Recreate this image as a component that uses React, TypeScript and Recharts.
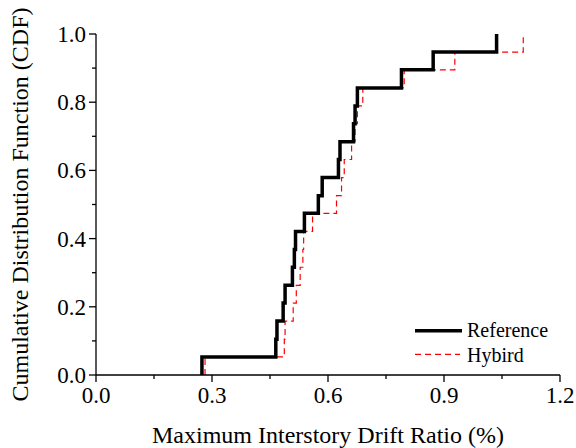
import { Legend, Line, LineChart, XAxis, YAxis } from "recharts";

// cumulative probability after each sorted sample (19 records)
const cdfLevels = [
  0.053, 0.105, 0.158, 0.211, 0.263, 0.316, 0.368, 0.421, 0.474, 0.526,
  0.579, 0.632, 0.684, 0.737, 0.789, 0.842, 0.895, 0.947, 1.0,
];

// sorted maximum interstory drift ratios (%)
const referenceDrift = [
  0.274, 0.465, 0.468, 0.484, 0.489, 0.508, 0.513, 0.516, 0.539, 0.575,
  0.585, 0.627, 0.631, 0.666, 0.67, 0.676, 0.79, 0.872, 1.036,
];
const hybirdDrift = [
  0.282, 0.487, 0.489, 0.51, 0.518, 0.528, 0.535, 0.537, 0.56, 0.622,
  0.635, 0.642, 0.661, 0.67, 0.676, 0.69, 0.797, 0.928, 1.105,
];

const xTicks = [0, 0.15, 0.3, 0.45, 0.6, 0.75, 0.9, 1.05, 1.2];
const xMajor = [0, 0.3, 0.6, 0.9, 1.2];
const yTicks = [0, 0.1, 0.2, 0.3, 0.4, 0.5, 0.6, 0.7, 0.8, 0.9, 1.0];
const yMajor = [0, 0.2, 0.4, 0.6, 0.8, 1.0];

const FONT = "'Liberation Serif', 'Times New Roman', serif";
const TICK_FONT = 23;
const TITLE_FONT = 24;

function toSteps(xs: number[]) {
  const pts = [{ x: xs[0], y: 0 }];
  xs.forEach((x, i) => pts.push({ x, y: cdfLevels[i] }));
  return pts;
}

const isMajor = (v: number, list: number[]) => list.some((m) => Math.abs(m - v) < 1e-6);

function BottomTick({ x, y, payload }: any) {
  const major = isMajor(payload.value, xMajor);
  return (
    <g>
      <line x1={x} x2={x} y1={y} y2={y + (major ? 7 : 4)} stroke="#000" strokeWidth={1.3} />
      {major && (
        <text x={x} y={y + 28} textAnchor="middle" fontSize={TICK_FONT} fontFamily={FONT} fill="#000">
          {payload.value.toFixed(1)}
        </text>
      )}
    </g>
  );
}

function LeftTick({ x, y, payload }: any) {
  const major = isMajor(payload.value, yMajor);
  return (
    <g>
      <line x1={x - (major ? 7 : 4)} x2={x} y1={y} y2={y} stroke="#000" strokeWidth={1.3} />
      {major && (
        <text x={x - 10} y={y + 8} textAnchor="end" fontSize={TICK_FONT} fontFamily={FONT} fill="#000">
          {payload.value.toFixed(1)}
        </text>
      )}
    </g>
  );
}

function TopTick({ x, y, payload }: any) {
  const major = isMajor(payload.value, xMajor);
  return <line x1={x} x2={x} y1={y} y2={y + (major ? 3 : 2)} stroke="#000" strokeWidth={1.3} />;
}

function RightTick({ x, y, payload }: any) {
  const major = isMajor(payload.value, yMajor);
  return <line x1={x - (major ? 3 : 2)} x2={x} y1={y} y2={y} stroke="#000" strokeWidth={1.3} />;
}

function LegendBox() {
  return (
    <svg width={150} height={50} style={{ display: "block" }}>
      <line x1={5} x2={52} y1={12.7} y2={12.7} stroke="#000" strokeWidth={3.5} />
      <text x={57} y={19} fontSize={20} fontFamily={FONT} fill="#000">
        Reference
      </text>
      <line x1={5} x2={50} y1={36.3} y2={36.3} stroke="#ff0000" strokeWidth={1.2} strokeDasharray="6 4" />
      <text x={57} y={43.5} fontSize={20} fontFamily={FONT} fill="#000">
        Hybird
      </text>
    </svg>
  );
}

export default function App() {
  const refData = toSteps(referenceDrift);
  const hybData = toSteps(hybirdDrift);

  return (
    <div style={{ position: "absolute", left: 0, top: 0, width: 576, height: 448, background: "#fff" }}>
      <LineChart width={576} height={448} margin={{ top: 34, right: 16, left: 0, bottom: 0 }}>
        <XAxis
          type="number"
          dataKey="x"
          domain={[0, 1.2]}
          ticks={xTicks}
          interval={0}
          height={73}
          tickSize={0}
          tickMargin={0}
          tickLine={false}
          tick={BottomTick}
          axisLine={{ stroke: "#000", strokeWidth: 1.3 }}
          allowDataOverflow
          label={{
            content: ({ viewBox }: any) => (
              <text
                x={viewBox.x + viewBox.width / 2}
                y={viewBox.y + 68}
                textAnchor="middle"
                fontSize={TITLE_FONT}
                fontFamily={FONT}
                fill="#000"
              >
                Maximum Interstory Drift Ratio (%)
              </text>
            ),
          }}
        />
        <XAxis
          xAxisId="top"
          orientation="top"
          type="number"
          dataKey="x"
          domain={[0, 1.2]}
          ticks={xTicks}
          interval={0}
          height={0}
          tickSize={0}
          tickMargin={0}
          tickLine={false}
          tick={TopTick}
          axisLine={{ stroke: "#000", strokeWidth: 1.3 }}
        />
        <YAxis
          type="number"
          domain={[0, 1]}
          ticks={yTicks}
          interval={0}
          width={96}
          tickSize={0}
          tickMargin={0}
          tickLine={false}
          tick={LeftTick}
          axisLine={{ stroke: "#000", strokeWidth: 1.3 }}
          label={{
            content: ({ viewBox }: any) => {
              const cx = viewBox.x + 20;
              const cy = viewBox.y + viewBox.height / 2;
              return (
                <text
                  x={cx}
                  y={cy}
                  transform={`rotate(-90 ${cx} ${cy})`}
                  textAnchor="middle"
                  dominantBaseline="central"
                  fontSize={TITLE_FONT}
                  fontFamily={FONT}
                  fill="#000"
                >
                  Cumulative Distribution Function (CDF)
                </text>
              );
            },
          }}
        />
        <YAxis
          yAxisId="right"
          orientation="right"
          type="number"
          domain={[0, 1]}
          ticks={yTicks}
          interval={0}
          width={0}
          tickSize={0}
          tickMargin={0}
          tickLine={false}
          tick={RightTick}
          axisLine={{ stroke: "#000", strokeWidth: 1.3 }}
        />
        <Line
          data={hybData}
          dataKey="y"
          type="stepAfter"
          stroke="#ff0000"
          strokeWidth={1.2}
          strokeDasharray="6 4"
          dot={false}
          isAnimationActive={false}
        />
        <Line
          data={refData}
          dataKey="y"
          type="stepAfter"
          stroke="#000"
          strokeWidth={3.5}
          dot={false}
          isAnimationActive={false}
        />
        <Legend
          layout="horizontal"
          verticalAlign="middle"
          align="center"
          wrapperStyle={{ position: "absolute", left: 410, top: 318, width: 150, height: 50 }}
          content={() => <LegendBox />}
        />
      </LineChart>
    </div>
  );
}
